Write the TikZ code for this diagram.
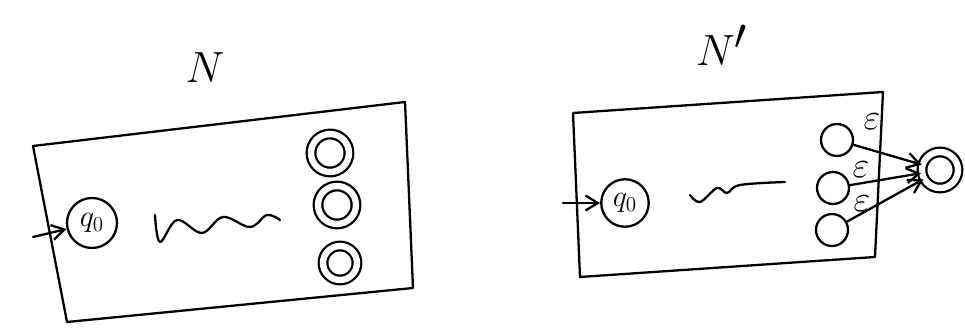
\documentclass[tikz,border=0pt]{standalone}
\usetikzlibrary{arrows.meta}
\usepackage{amsmath}

\begin{document}
\begin{tikzpicture}[x=0.02cm, y=-0.02cm, >={Straight Barb[length=2.5mm, width=3mm]}, line width=1.3pt, line cap=round, line join=round,
  every node/.style={inner sep=0pt},
  state/.style={circle, draw, line width=1.3pt, minimum size=6.4mm},
  accept/.style={state, double, double distance=3.6pt, minimum size=7.6mm},
  big/.style={font=\fontsize{34}{36}\selectfont}]
  \useasboundingbox (0,0) rectangle (965,330);
  % N
  \node[big] (tN) at (205,68) {$N$};
  \draw (33,146) -- (405,102) -- (413,288) -- (67,322) -- cycle;
  \node[state, minimum size=10mm, font=\LARGE] (lq0) at (92,223) {$q_0$};
  \coordinate (lin) at (33,237);
  \draw[->] (lin) -- (lq0);
  \draw plot[smooth, tension=0.6] coordinates {(155,215) (160,242) (177,220) (202,233) (223,217) (250,227) (267,215) (280,220)};
  \node[accept] (lf1) at (330,153) {};
  \node[accept] (lf2) at (337,205) {};
  \node[accept, minimum size=6.8mm] (lf3) at (340,263) {};
  % N'
  \node[big] (tNp) at (722,45) {$N'$};
  \draw (573,113) -- (883,92) -- (875,257) -- (580,277) -- cycle;
  \node[state, minimum size=9.5mm, font=\LARGE] (rq0) at (625,203) {$q_0$};
  \coordinate (rin) at (563,203);
  \draw[->] (rin) -- (rq0);
  \draw plot[smooth, tension=0.6] coordinates {(690,195) (700,202) (717,188) (727,193) (740,185) (785,182)};
  \node[state] (r1) at (837,140) {};
  \node[state] (r2) at (833,188) {};
  \node[state] (r3) at (832,230) {};
  \node[accept, minimum size=7.2mm] (fin) at (940,170) {};
  \draw[->] (r1) -- (fin);
  \draw[->] (r2) -- (fin);
  \draw[->] (r3) -- (fin);
  \node[font=\huge] (e1) at (872,122) {$\varepsilon$};
  \node[font=\huge] (e2) at (861,170) {$\varepsilon$};
  \node[font=\huge] (e3) at (862,204) {$\varepsilon$};
\end{tikzpicture}
\end{document}
